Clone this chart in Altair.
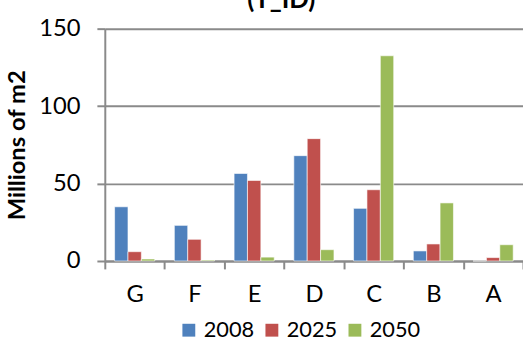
import altair as alt
import pandas as pd

# Floor area by energy class, in millions of m2
classes = ["G", "F", "E", "D", "C", "B", "A"]
years = ["2008", "2025", "2050"]
area_2008 = [35.0, 23.0, 56.5, 68.0, 34.0, 6.5, 0.0]
area_2025 = [6.0, 14.0, 52.0, 79.0, 46.0, 11.0, 2.2]
area_2050 = [1.3, 0.6, 2.5, 7.3, 132.5, 37.5, 10.5]
series_colors = ["#4F81BD", "#C0504D", "#9BBB59"]
y_ticks = [0, 50, 100, 150]

rows = []
for year, values in zip(years, [area_2008, area_2025, area_2050]):
    for cls, v in zip(classes, values):
        rows.append({"class": cls, "year": year, "area": v})
df = pd.DataFrame(rows)

grid_gray = "#8A8A8A"

bars = alt.Chart(df).mark_bar(
    stroke="white", strokeOpacity=0.6, strokeWidth=1
).encode(
    x=alt.X(
        "class:N",
        sort=classes,
        scale=alt.Scale(paddingInner=0, paddingOuter=0),
        axis=alt.Axis(
            title=None,
            labelAngle=0,
            labelFontSize=24,
            labelColor="black",
            labelPadding=14,
            tickBand="extent",
            tickSize=8,
            tickWidth=2,
            tickColor=grid_gray,
            domainColor=grid_gray,
            domainWidth=2,
            grid=False,
        ),
    ),
    xOffset=alt.XOffset(
        "year:N",
        sort=years,
        scale=alt.Scale(paddingInner=0, paddingOuter=0.733),
    ),
    y=alt.Y(
        "area:Q",
        scale=alt.Scale(domain=[0, 150], nice=False),
        axis=alt.Axis(
            title="Millions of m2",
            titleFontSize=24,
            titleFontWeight="bold",
            titleColor="black",
            titlePadding=9,
            values=y_ticks,
            labelFontSize=24,
            labelColor="black",
            labelPadding=17,
            tickSize=8,
            tickWidth=2,
            tickColor=grid_gray,
            domainColor=grid_gray,
            domainWidth=2,
            grid=True,
            gridColor=grid_gray,
            gridWidth=2,
        ),
    ),
    color=alt.Color(
        "year:N",
        sort=years,
        scale=alt.Scale(domain=years, range=series_colors),
        legend=alt.Legend(
            title=None,
            orient="none",
            direction="horizontal",
            legendX=74,
            legendY=294,
            symbolType="square",
            symbolSize=169,
            symbolStrokeWidth=0,
            symbolOpacity=1,
            labelFontSize=22,
            labelColor="black",
            labelOffset=4,
            columnPadding=6,
        ),
    ),
)

chart = bars.properties(
    width=423,
    height=235,
    title=alt.TitleParams(
        text="(T_ID)",
        fontSize=26,
        fontWeight="bold",
        color="black",
        anchor="middle",
        dx=-33,
        dy=0,
    ),
    autosize=alt.AutoSizeParams(type="none"),
    padding={"left": 106, "top": 27, "right": 0, "bottom": 85},
).configure(font="Lato").configure_view(stroke=None)

chart.save("out.html", embed_options={"renderer": "svg", "actions": False})
